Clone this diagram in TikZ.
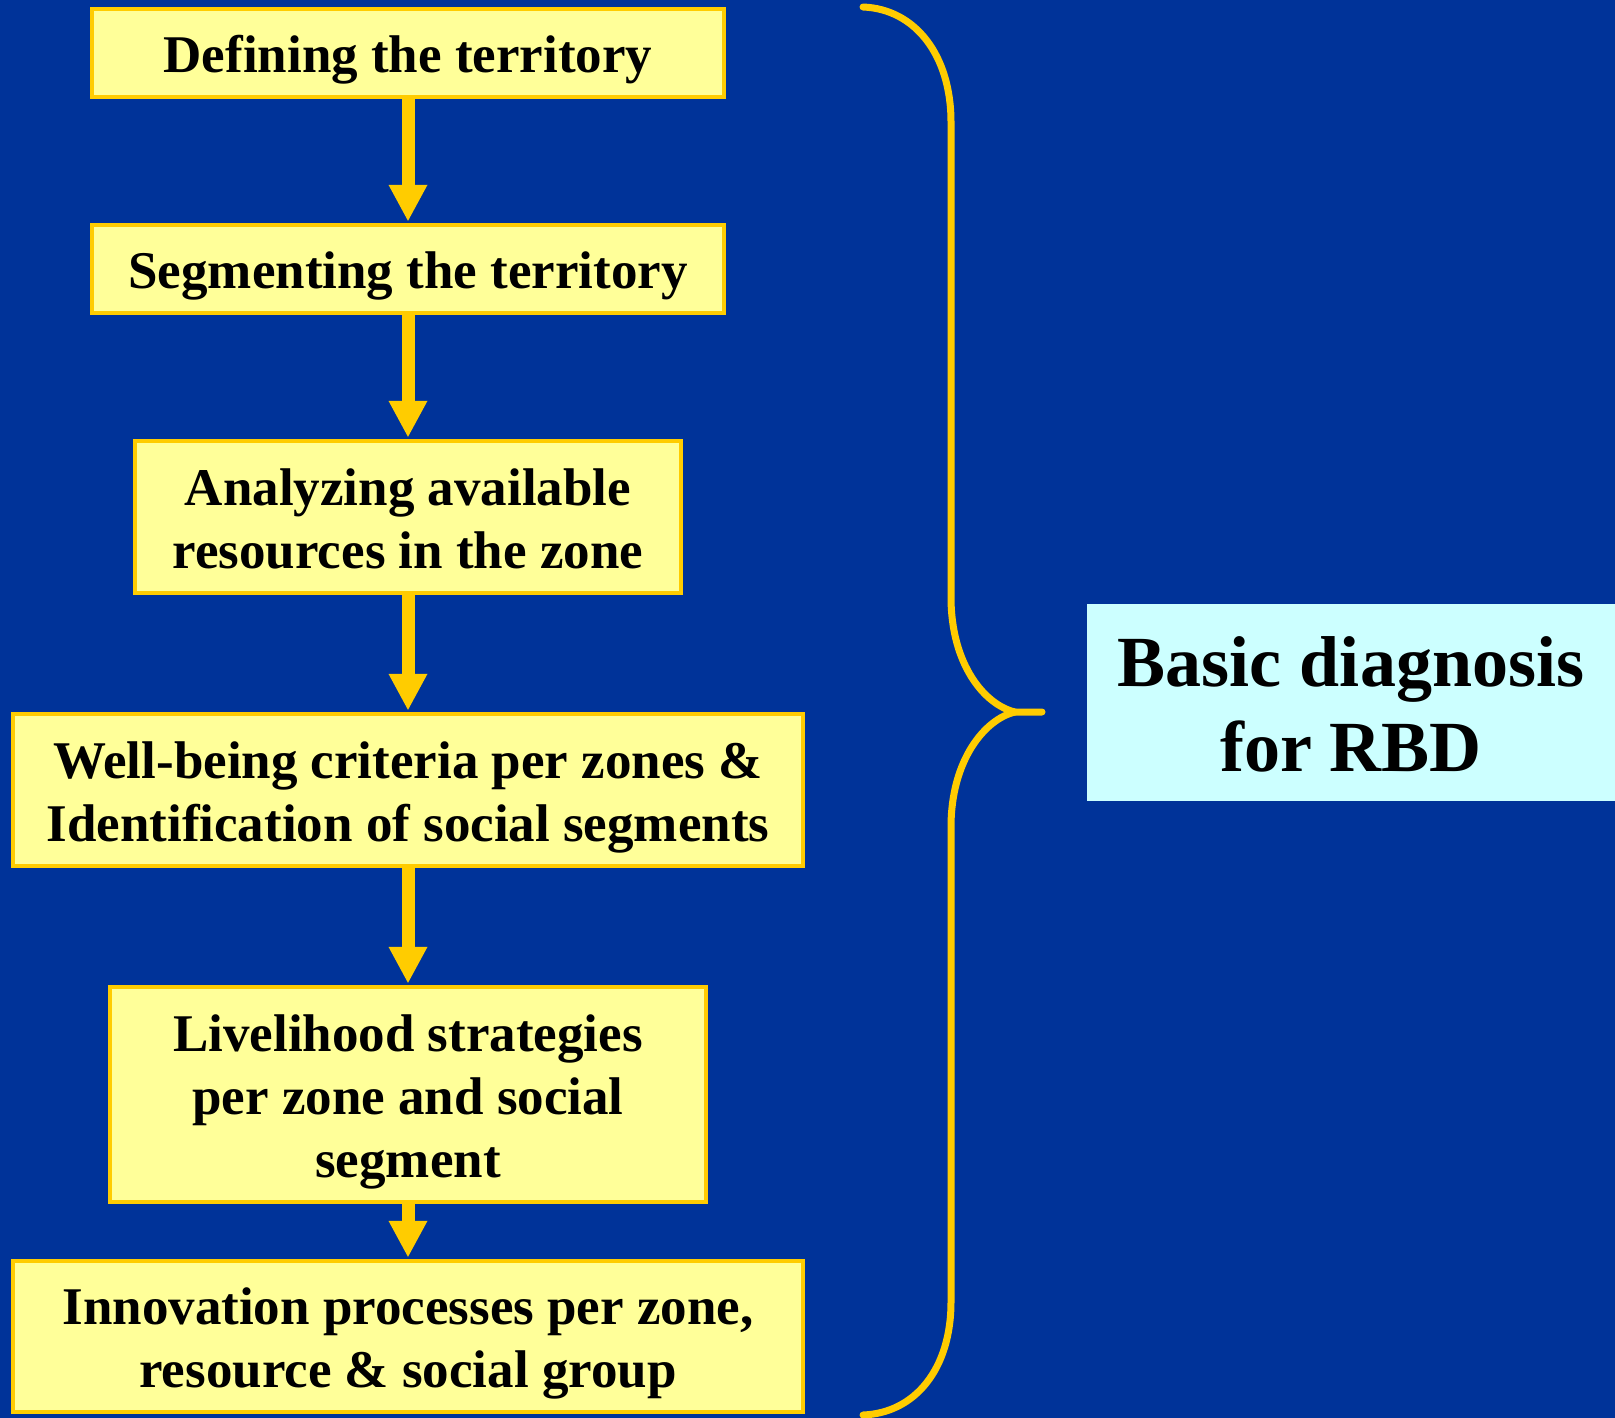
\documentclass[tikz,border=0pt]{standalone}
\usepackage{fontspec}
\setmainfont{Liberation Serif}
\usetikzlibrary{arrows.meta}
\definecolor{bgblue}{HTML}{003399}
\definecolor{boxfill}{HTML}{FFFF99}
\definecolor{gold}{HTML}{FFCC00}
\definecolor{labelfill}{HTML}{CCFFFF}

\begin{document}
\begin{tikzpicture}[x=1pt,y=-1pt,
  stepbox/.style={draw=gold, fill=boxfill, line width=4.3pt, inner sep=0pt,
    align=center, font=\fontsize{53}{63}\selectfont\bfseries, text depth=0pt},
  oneline/.style={text height=39pt},
  twolines/.style={text height=102pt},
  threelines/.style={text height=165pt},
  flow/.style={draw=gold, line width=13pt, shorten >=2pt,
    -{Triangle[length=36pt,width=39pt,line width=0pt]}},
  bracket/.style={draw=gold, line width=7pt, line cap=round, line join=round},
]
% background
\fill[bgblue] (0,0) rectangle (1615,1418);
\useasboundingbox (0,0) rectangle (1615,1418);

% steps
\node[stepbox, oneline, minimum width=632pt, minimum height=88pt] (b1) at (408,53)
  {Defining the territory};
\node[stepbox, oneline, minimum width=632pt, minimum height=88pt] (b2) at (408,269)
  {Segmenting the territory};
\node[stepbox, twolines, minimum width=546pt, minimum height=152pt] (b3) at (408,517)
  {Analyzing available\\resources in the zone};
\node[stepbox, twolines, minimum width=790pt, minimum height=152pt] (b4) at (408,790)
  {Well-being criteria per zones \&\\Identification of social segments};
\node[stepbox, threelines, minimum width=596pt, minimum height=215pt] (b5) at (408,1094.5)
  {Livelihood strategies\\per zone and social\\segment};
\node[stepbox, twolines, minimum width=790pt, minimum height=151pt] (b6) at (408,1336.5)
  {Innovation processes per zone,\\resource \& social group};

% connectors
\draw[flow] (b1.south) -- (b2.north);
\draw[flow] (b2.south) -- (b3.north);
\draw[flow] (b3.south) -- (b4.north);
\draw[flow] (b4.south) -- (b5.north);
\draw[flow] (b5.south) -- (b6.north);

% curly bracket
\draw[bracket] (863,7) .. controls (915,9) and (951,55) .. (951,122)
  -- (951,597) .. controls (951,665) and (985,705) .. (1015,712) -- (1042,712);
\draw[bracket] (1015,712) .. controls (985,719) and (951,760) .. (951,827)
  -- (951,1302) .. controls (951,1369) and (915,1413) .. (863,1415);

% summary label
\node[fill=labelfill, minimum width=528pt, minimum height=197pt, inner sep=0pt,
  align=center, font=\fontsize{72}{85}\selectfont\bfseries,
  text height=137pt, text depth=0pt] (diag) at (1351,702.5)
  {Basic diagnosis\\for RBD};
\end{tikzpicture}
\end{document}
